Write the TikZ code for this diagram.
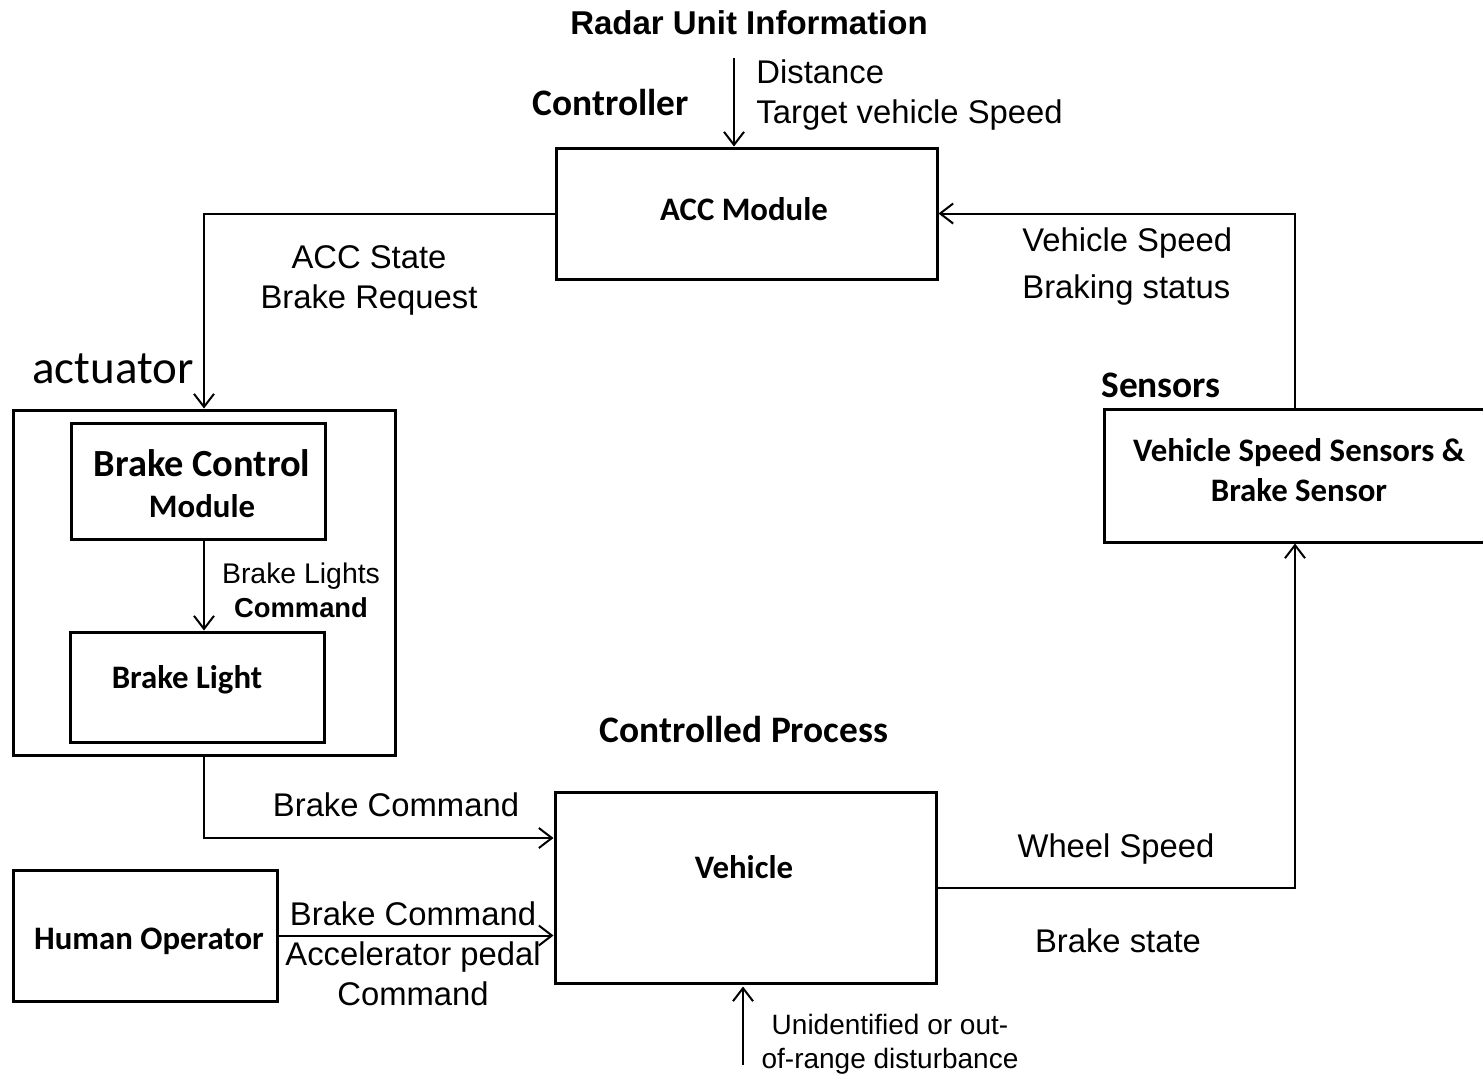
\documentclass[tikz,border=0pt]{standalone}
\usepackage{fontspec}
\setmainfont{Liberation Sans}
\newfontfamily\calfont{Carlito}
\usetikzlibrary{arrows.meta,calc}

\tikzset{
  blk/.style={draw, line width=1.5pt, inner sep=0pt},
  conn/.style={line width=1pt, -{Straight Barb[length=6.5pt,width=10pt,line width=1pt]}},
  lbl/.style={inner sep=0pt, align=center, font=\fontsize{16.4}{20}\selectfont},
  ttl/.style={inner sep=0pt, align=center, font=\calfont\bfseries\fontsize{16.4}{20}\selectfont},
  hdr/.style={inner sep=0pt, align=center, font=\calfont\bfseries\fontsize{18.7}{22}\selectfont}
}

\begin{document}
\begin{tikzpicture}[x=0.5pt,y=-0.5pt]
\clip (0,0) rectangle (1483,1073);
\fill[white] (0,0) rectangle (1483,1073);

% blocks
\node[blk, minimum width=190.5pt, minimum height=65.5pt] (acc) at (746.5,213.5) {};
\node[blk, minimum width=191pt, minimum height=172.5pt] (act) at (204,582.5) {};
\node[blk, minimum width=127pt, minimum height=58pt] (bcm) at (198,481) {};
\node[blk, minimum width=127pt, minimum height=55pt] (blight) at (197,687) {};
\node[blk, minimum width=190.5pt, minimum height=95.5pt] (veh) at (745.5,887.5) {};
\node[blk, minimum width=132pt, minimum height=65.5pt] (ho) at (145,935.5) {};
\node[blk, minimum width=196pt, minimum height=66.5pt] (sens) at (1300,475.5) {};

% block texts
\node[ttl] (acct) at (744,209) {ACC Module};
\node[inner sep=0pt, align=center, font=\calfont\bfseries\fontsize{16.4}{20.5}\selectfont] (bcmt) at (202,484)
  {{\fontsize{19.2}{20.5}\selectfont Brake Control}\\Module};
\node[ttl] (blightt) at (187,680) {Brake Light};
\node[ttl] (veht) at (744,867) {Vehicle};
\node[ttl] (hot) at (149,941) {Human Operator};
\node[ttl] (senst) at (1299,470) {Vehicle Speed Sensors \&\\Brake Sensor};

% headings
\node[inner sep=0pt, font=\bfseries\fontsize{16.5}{20}\selectfont] (radar) at (749,23) {Radar Unit Information};
\node[hdr] (ctrl) at (611,103) {Controller};
\node[inner sep=0pt, font=\calfont\fontsize{23.5}{28}\selectfont] (actl) at (113,369) {actuator};
\node[hdr] (cproc) at (744,729) {Controlled Process};
\node[hdr] (sensl) at (1161,385) {Sensors};

% connectors
\coordinate (radartop) at (734,58);
\draw[conn] (radartop) -- (radartop |- acc.north);
\draw[conn] (acc.west) -| (act.north);
\draw[conn] (bcm.south -| act.north) -- (blight.north -| act.north);
\draw[conn] (act.south) |- ([yshift=24.75pt]veh.west);
\draw[conn] (ho.east) -- (ho.east -| veh.west);
\draw[conn] (veh.east) -| (sens.south -| 1295,0);
\draw[conn] (sens.north -| 1295,0) |- (acc.east);
\coordinate (dist) at (743,1065);
\draw[conn] (dist) -- ([yshift=-1pt]dist |- veh.south);

% connector labels
\node[lbl, anchor=west, align=left] (radarinfo) at (756,95) {Distance\\Target vehicle Speed};
\node[lbl] (accout) at (369,280) {ACC State\\Brake Request};
\node[inner sep=0pt, align=center, font=\fontsize{14.2}{17}\selectfont] (blcmd) at (301,590)
  {Brake Lights\\{\bfseries\fontsize{13.7}{17}\selectfont Command}};
\node[lbl] (bcmd) at (396,805) {Brake Command};
\node[lbl] (hocmd) at (413,954) {Brake Command\\Accelerator pedal\\Command};
\node[lbl] (wheel) at (1116,849) {Wheel Speed};
\node[lbl] (bstate) at (1118,941) {Brake state};
\node[inner sep=0pt, align=center, font=\fontsize{14}{17}\selectfont] (distl) at (890,1044) {Unidentified or out-\\of-range disturbance};
\node[inner sep=0pt, anchor=west, align=left, font=\fontsize{16.4}{23.5}\selectfont] (fb) at (1022,267) {Vehicle Speed\\Braking status};
\end{tikzpicture}
\end{document}
